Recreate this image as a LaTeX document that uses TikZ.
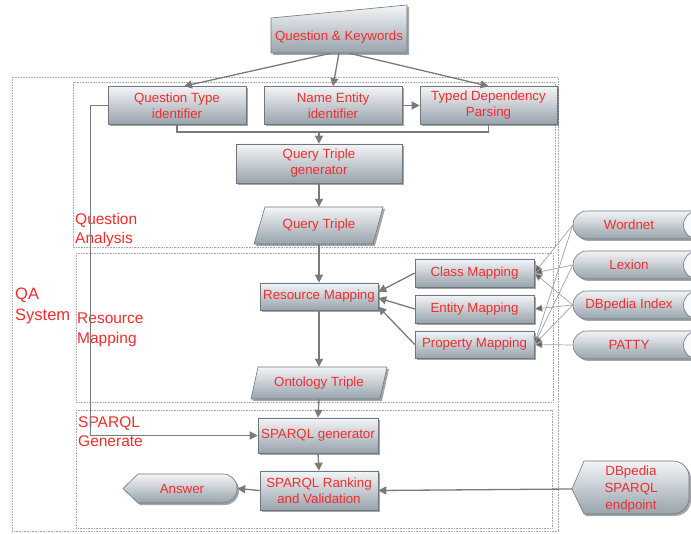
\documentclass[tikz,border=0pt]{standalone}
\usepackage{fontspec}
\setmainfont{Liberation Sans}
\usetikzlibrary{shadows,arrows.meta,calc}
\definecolor{txtred}{HTML}{F42C2C}
\definecolor{boxtop}{HTML}{F3F5F7}
\definecolor{boxbot}{HTML}{98A3AC}
\definecolor{boxline}{HTML}{6E7780}
\definecolor{conn}{HTML}{7A7A7A}
\definecolor{frame}{HTML}{A8A8A8}
\begin{document}
\begin{tikzpicture}[x=1pt,y=-1pt,
 boxfill/.style={top color=boxtop,bottom color=boxbot,draw=boxline,line width=0.6pt,
   drop shadow={shadow xshift=2pt,shadow yshift=-2pt,fill=black,opacity=0.35}},
 box/.style={boxfill,rectangle,text=txtred,font=\fontsize{13.3}{16}\selectfont,align=center,inner sep=0pt},
 txt/.style={rectangle,text=txtred,font=\fontsize{13.3}{16}\selectfont,align=center,inner sep=0pt},
 lbl/.style={anchor=north west,text=txtred,font=\fontsize{15.5}{19.5}\selectfont,align=left,inner sep=0pt},
 arr/.style={draw=conn,line width=1.3pt,-{Triangle[width=8pt,length=8pt]}},
 ln/.style={draw=conn,line width=1.3pt},
 res/.style={draw=conn!70,line width=0.7pt,-{Triangle[width=7pt,length=8pt,fill=conn!80!black]}},
 grp/.style={draw=frame,densely dotted,line width=0.6pt}]
\useasboundingbox (0,0) rectangle (691,534);
\fill[white] (0,0) rectangle (691,534);

% groups
\draw[grp] (12,77) rectangle (558,531);
\draw[grp] (73,82) rectangle (555,247);
\draw[grp] (76,253) rectangle (553,402);
\draw[grp] (76,410) rectangle (552,528);

\node[lbl,font=\fontsize{16.5}{20.5}\selectfont] (lqa) at (15,288) {QA\\System};
\node[lbl] (lqan) at (75,213) {Question\\Analysis};
\node[lbl] (lrm) at (77,313) {Resource\\Mapping};
\node[lbl] (lsg) at (78,416) {SPARQL\\Generate};

% input shape
\path[boxfill] (271,18) -- (407,5) -- (407,53) -- (271,53) -- cycle;
\node[txt,minimum width=136pt,minimum height=32pt] (qk) at (339,37) {Question \& Keywords};

\node[box,minimum width=138pt,minimum height=38pt] (qt) at (177,105.5) {Question Type\\identifier};
\node[box,minimum width=138pt,minimum height=38pt] (ne) at (333,105.5) {Name Entity\\identifier};
\node[box,minimum width=137pt,minimum height=38pt] (tdp) at (488.5,105.5) {Typed Dependency\\Parsing};
\node[box,minimum width=166pt,minimum height=39pt] (qtg) at (319,163.5) {Query Triple\\generator};

\path[boxfill] (265,207) -- (383,207) -- (373,244) -- (254,244) -- cycle;
\node[txt,minimum width=118pt,minimum height=37pt] (qtr) at (319,225.5) {Query Triple};

\node[box,minimum width=118pt,minimum height=27pt] (rm) at (319,296.5) {Resource Mapping};
\node[box,minimum width=119pt,minimum height=28pt] (cm) at (474.5,273) {Class Mapping};
\node[box,minimum width=119pt,minimum height=28pt] (em) at (474.5,309) {Entity Mapping};
\node[box,minimum width=119pt,minimum height=27pt] (pm) at (474.5,344.5) {Property Mapping};

\path[boxfill] (258,367) -- (387,367) -- (380,399) -- (251,399) -- cycle;
\node[txt,minimum width=122pt,minimum height=32pt] (ot) at (319,383) {Ontology Triple};

\node[box,minimum width=120pt,minimum height=35pt] (sg) at (318,435.5) {SPARQL generator};
\node[box,minimum width=118pt,minimum height=39pt] (rk) at (319,490.5) {SPARQL Ranking\\and Validation};

% answer display shape
\path[boxfill] (138,503) -- (123,488.5) -- (138,474) -- (200,474) [rounded corners=14pt] -- (237,474) -- (237,503) -- (200,503) [sharp corners] -- cycle;
\node[txt,minimum width=110pt,minimum height=29pt] (ans) at (182,488.5) {Answer};

% endpoint display shape
\path[boxfill] (584,514) -- (572,489) -- (584,461) -- (620,461) [rounded corners=16pt] -- (689,461) -- (689,514) -- (620,514) [sharp corners] -- cycle;
\node[txt,minimum width=118pt,minimum height=53pt,font=\fontsize{13.3}{17}\selectfont] (ep) at (631,489) {DBpedia\\SPARQL\\endpoint};

% storage shapes
\foreach \t/\nm/\lab in {211/wn/Wordnet,251/lx/Lexion,291/dbi/DBpedia Index,331/pt/PATTY}{
  \path[boxfill] (650,\t) [rounded corners=14pt] -- (573,\t) -- (573,\t+28) -- (650,\t+28) [sharp corners] -- (720,\t+28) -- (720,\t) -- cycle;
  \draw[draw=boxline,line width=0.6pt,fill=boxtop!60!white] (697,\t+14) ellipse [x radius=13.5pt,y radius=14pt];
  \node[txt,minimum width=112pt,minimum height=28pt] (\nm) at (629,\t+14) {\lab};
}

% connectors
\draw[arr] ([xshift=-8pt]qk.south) -- ([xshift=7pt]qt.north);
\draw[arr] (qk.south) -- (ne.north);
\draw[arr] ([xshift=10pt]qk.south) -- (tdp.north);
\draw[arr] (ne.east) -- (tdp.west);
\coordinate (jn) at (319,132);
\draw[ln] (qt.south) |- (jn) -| (tdp.south);
\draw[arr] (jn) -- (qtg.north);
\draw[arr] (qtg.south) -- (qtr.north);
\draw[arr] (qtr.south) -- (rm.north);
\draw[arr] (rm.south) -- (ot.north);
\draw[arr] (ot.south) -- (sg.north);
\draw[arr] (sg.south) -- (rk.north);
\draw[arr] (rk.west) -- (ans.east);
\draw[arr] (ep.west) -- (rk.east);
\draw[arr] (qt.west) -- ++(-17,0) |- (sg.west);

\draw[arr] (cm.west) -- ([yshift=4.5pt]rm.east);
\draw[arr] (em.west) -- ([yshift=-1.5pt]rm.east);
\draw[arr] (pm.west) -- ([yshift=-10pt]rm.east);

\draw[res] (wn.west) -- (cm.east);
\draw[res] (wn.west) -- (pm.east);
\draw[res] (lx.west) -- (cm.east);
\draw[res] (lx.west) -- (pm.east);
\draw[res] (dbi.west) -- (cm.east);
\draw[res] (dbi.west) -- (em.east);
\draw[res] (dbi.west) -- (pm.east);
\draw[res] (pt.west) -- (pm.east);
\end{tikzpicture}
\end{document}
